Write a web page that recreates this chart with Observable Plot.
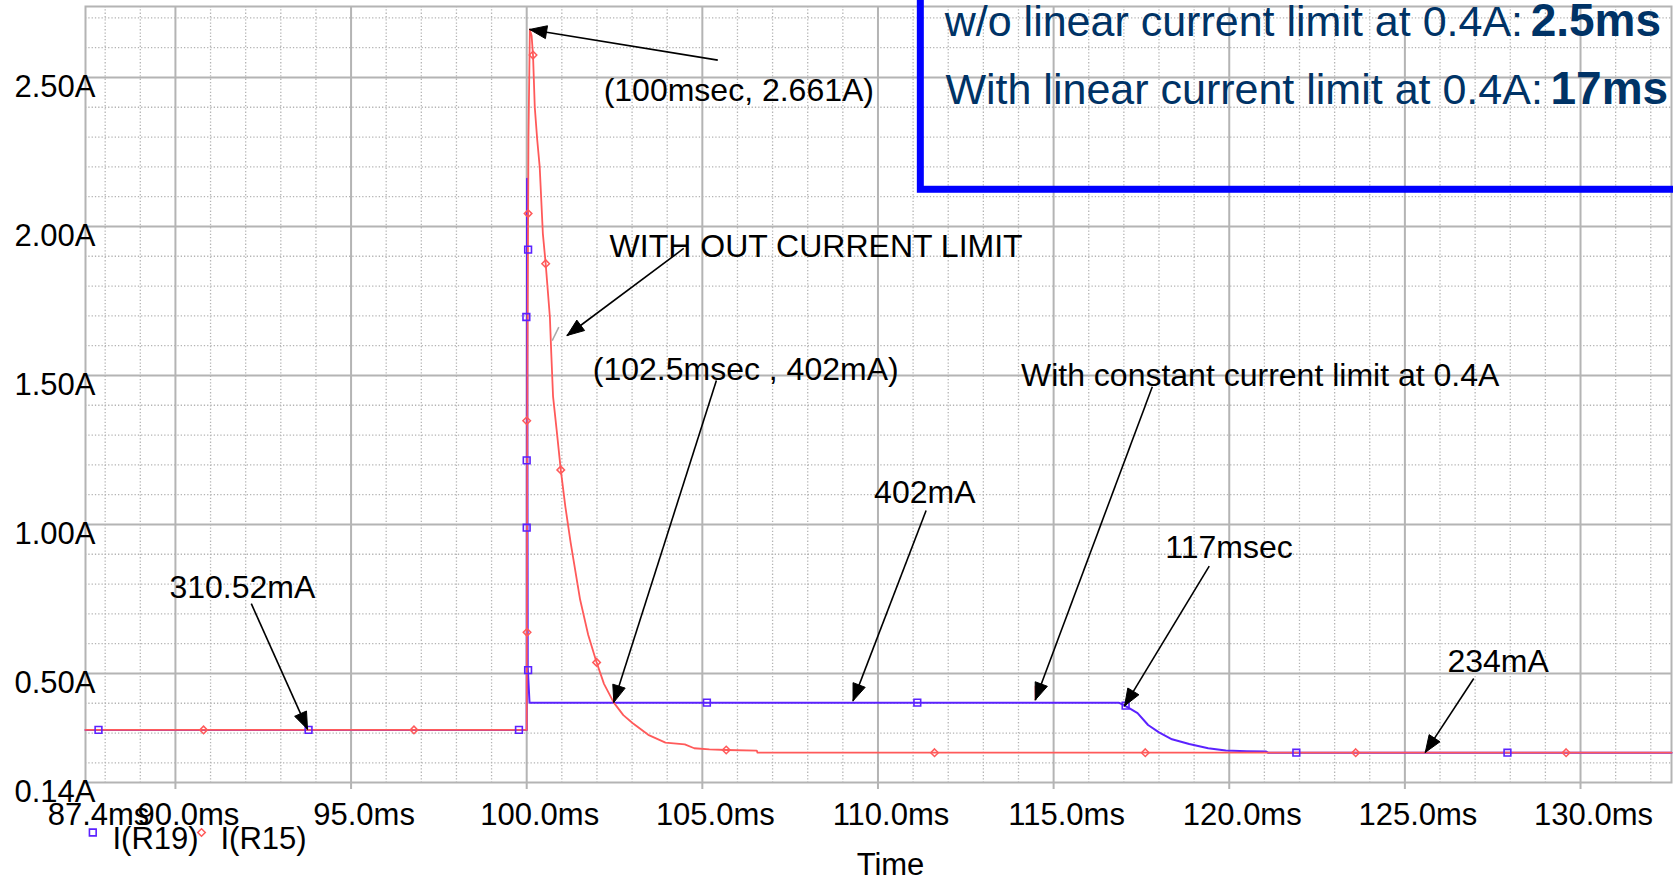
<!DOCTYPE html>
<html>
<head>
<meta charset="utf-8">
<script src="https://cdn.jsdelivr.net/npm/d3@7"></script>
<script src="https://cdn.jsdelivr.net/npm/@observablehq/plot@0.6"></script>
<style>
  html, body { margin: 0; padding: 0; background: #fff; overflow: hidden; }
</style>
</head>
<body>
<div id="chart"></div>
<script>
// ---------- axes ----------
const xDomain = [87.44, 132.59];
const yDomain = [0.134, 2.738];
const xMajorTicks = [90, 95, 100, 105, 110, 115, 120, 125, 130];
const xTickValues = [87.44, 90, 95, 100, 105, 110, 115, 120, 125, 130];
const xTickLabels = ["87.4ms", "90.0ms", "95.0ms", "100.0ms", "105.0ms", "110.0ms", "115.0ms", "120.0ms", "125.0ms", "130.0ms"];
const yMajorTicks = [0.5, 1.0, 1.5, 2.0, 2.5];
const yTickValues = [0.134, 0.5, 1.0, 1.5, 2.0, 2.5];
const yTickLabels = ["0.14A", "0.50A", "1.00A", "1.50A", "2.00A", "2.50A"];
const xLabel = "Time";

// ---------- series ----------
const seriesNames = ["I(R19)", "I(R15)"];
const seriesColors = ["#5b22ff", "#ff5a5a"];

// I(R19) – with linear current limit
const r19Time  = [87.44, 100.0, 100.01, 100.03, 100.08, 116.85, 117.0, 117.2, 117.39, 117.69, 118.0, 118.37, 118.86, 119.4, 119.9, 120.5, 121.05, 121.1, 132.59];
const r19Value = [0.3105, 0.3105, 2.16, 0.52, 0.402, 0.402, 0.394, 0.38, 0.367, 0.327, 0.302, 0.279, 0.263, 0.249, 0.241, 0.239, 0.238, 0.234, 0.234];
const r19MarkTime  = [87.81, 93.79, 99.78, 100.04, 100.0, 100.0, 99.99, 100.04, 105.13, 111.12, 117.05, 121.91, 127.92];
const r19MarkValue = [0.3105, 0.3105, 0.3105, 0.511, 0.989, 1.215, 1.696, 1.922, 0.402, 0.402, 0.392, 0.234, 0.234];

// I(R15) – without current limit
const r15Time  = [87.44, 100.0, 100.02, 100.05, 100.09, 100.14, 100.18, 100.23, 100.3, 100.37, 100.46, 100.54, 100.66, 100.7, 100.75, 100.85, 100.97, 101.1, 101.25, 101.52, 101.75, 101.99, 102.2, 102.48, 102.75, 103.02, 103.46, 103.95, 104.5, 104.77, 105.2, 105.69, 106.55, 106.57, 132.59];
const r15Value = [0.3105, 0.3105, 1.5, 2.3, 2.661, 2.64, 2.575, 2.4, 2.29, 2.2, 1.976, 1.875, 1.696, 1.573, 1.43, 1.32, 1.183, 1.06, 0.94, 0.748, 0.63, 0.537, 0.465, 0.402, 0.36, 0.333, 0.294, 0.268, 0.262, 0.249, 0.245, 0.243, 0.241, 0.234, 0.234];
const r15MarkTime  = [90.8, 96.79, 100.01, 100.0, 100.04, 100.18, 100.54, 100.97, 101.99, 105.68, 111.61, 117.61, 123.6, 129.59];
const r15MarkValue = [0.3105, 0.3105, 0.638, 1.348, 2.043, 2.575, 1.875, 1.183, 0.537, 0.243, 0.234, 0.234, 0.234, 0.234];

// ---------- annotations ----------
const annoText  = ["(100msec, 2.661A)", "WITH OUT CURRENT LIMIT", "(102.5msec , 402mA)", "With constant current limit at 0.4A", "402mA", "310.52mA", "117msec", "234mA"];
const annoX     = [102.19, 102.36, 101.88, 114.07, 109.89, 89.83, 118.18, 126.21];
const annoY     = [2.42, 1.897, 1.483, 1.466, 1.072, 0.753, 0.889, 0.506];
const arrowFromX = [105.44, 104.47, 105.4, 117.81, 111.37, 92.16, 119.43, 126.96];
const arrowFromY = [2.558, 1.926, 1.483, 1.462, 1.047, 0.734, 0.86, 0.483];
const arrowToX   = [100.085, 101.15, 102.48, 114.48, 109.29, 93.76, 117.02, 125.58];
const arrowToY   = [2.661, 1.634, 0.403, 0.411, 0.408, 0.313, 0.391, 0.235];

// small stray marks in the original
const strayX1 = [100.726, 114.48];
const strayY1 = [1.617, 0.411];
const strayX2 = [100.914, 114.48];
const strayY2 = [1.662, 0.459];
const strayColor = ["#aaaaaa", "#ff5a5a"];

// summary box
const boxLines  = ["w/o linear current limit at 0.4A:", "With linear current limit at 0.4A:"];
const boxValues = ["2.5ms", "17ms"];
const boxLineY  = [2.638, 2.41];
const boxTextX  = [111.9, 111.92];
const boxBoldX  = [128.58, 129.145];
const boxEdge   = {x1: 111.22, x2: 133.2, y1: 2.123, y2: 2.83};

// ---------- layout ----------
const W = 1673, H = 878, mL = 85, mR = 2, mT = 6, mB = 96;
const FONT = "'Liberation Sans', Arial, Helvetica, sans-serif";
const GRID = "#b4b4b4";

// build tables
const r19 = r19Time.map((t, i) => ({t, v: r19Value[i]}));
const r15 = r15Time.map((t, i) => ({t, v: r15Value[i]}));
const r19Marks = r19MarkTime.map((t, i) => ({t, v: r19MarkValue[i]}));
const r15Marks = r15MarkTime.map((t, i) => ({t, v: r15MarkValue[i]}));
const annos = annoText.map((s, i) => ({s, x: annoX[i], y: annoY[i]}));
const arrows = arrowFromX.map((x, i) => ({x1: x, y1: arrowFromY[i], x2: arrowToX[i], y2: arrowToY[i]}));
const strays = strayX1.map((x, i) => ({x1: x, y1: strayY1[i], x2: strayX2[i], y2: strayY2[i], c: strayColor[i]}));
const xMinor = d3.range(88, 133).filter(v => v % 5 !== 0);
const yMinor = d3.range(2, 28).filter(v => v % 5 !== 0).map(v => v / 10);

// arrow heads as filled triangles (computed through the plot's scales)
const xs = Plot.scale({x: {domain: xDomain, range: [mL, W - mR]}});
const ys = Plot.scale({y: {domain: yDomain, range: [H - mB, mT]}});
const xInv = xs.invert ? (p) => xs.invert(p) : d3.scaleLinear().domain([mL, W - mR]).range(xDomain);
const yInv = ys.invert ? (p) => ys.invert(p) : d3.scaleLinear().domain([H - mB, mT]).range(yDomain);
const HEAD_L = 17, HEAD_W = 6.5;
const heads = [];
arrows.forEach((a, i) => {
  const px = xs.apply(a.x2), py = ys.apply(a.y2);
  const qx = xs.apply(a.x1), qy = ys.apply(a.y1);
  const len = Math.hypot(px - qx, py - qy);
  const ux = (px - qx) / len, uy = (py - qy) / len;
  const bx = px - ux * HEAD_L, by = py - uy * HEAD_L;
  [[px, py], [bx - uy * HEAD_W, by + ux * HEAD_W], [bx + uy * HEAD_W, by - ux * HEAD_W], [px, py]]
    .forEach(([a1, b1]) => heads.push({id: i, x: xInv(a1), y: yInv(b1)}));
});

const chart = Plot.plot({
  width: W,
  height: H,
  marginLeft: mL,
  marginRight: mR,
  marginTop: mT,
  marginBottom: mB,
  x: {domain: xDomain, axis: null},
  y: {domain: yDomain, axis: null},
  style: {fontFamily: FONT, fontSize: "31px", background: "#fff", color: "#000", overflow: "hidden"},
  marks: [
    // grid
    Plot.ruleX(xMinor, {stroke: GRID, strokeWidth: 1.3, strokeDasharray: "1.3,2"}),
    Plot.ruleY(yMinor, {stroke: GRID, strokeWidth: 1.3, strokeDasharray: "1.3,2"}),
    Plot.ruleX(xMajorTicks, {stroke: GRID, strokeWidth: 2, insetBottom: -7}),
    Plot.ruleY(yMajorTicks, {stroke: GRID, strokeWidth: 2}),
    Plot.frame({stroke: GRID, strokeWidth: 2}),

    // summary box
    Plot.rect([boxEdge], {x1: "x1", x2: "x2", y1: "y1", y2: "y2", fill: "none", stroke: "#0000ff", strokeWidth: 7}),

    // traces
    Plot.line(r19, {x: "t", y: "v", stroke: seriesColors[0], strokeWidth: 2}),
    Plot.line(r15, {x: "t", y: "v", stroke: seriesColors[1], strokeWidth: 1.8}),
    Plot.dot(r19Marks, {x: "t", y: "v", symbol: "square", r: 3.8, stroke: seriesColors[0], strokeWidth: 1.6, fill: "none"}),
    Plot.dot(r15Marks, {x: "t", y: "v", symbol: "diamond2", r: 3.4, stroke: seriesColors[1], strokeWidth: 1.5, fill: "none"}),

    // stray marks
    Plot.link(strays, {x1: "x1", y1: "y1", x2: "x2", y2: "y2", stroke: "c", strokeWidth: 1.5}),

    // arrows
    Plot.link(arrows, {x1: "x1", y1: "y1", x2: "x2", y2: "y2", stroke: "#000", strokeWidth: 1.6}),
    Plot.line(heads, {x: "x", y: "y", z: "id", fill: "#000", stroke: "#000", strokeWidth: 1}),

    // annotation texts
    Plot.text(annos, {x: "x", y: "y", text: "s", textAnchor: "start", lineAnchor: "bottom", fontSize: 32, fill: "#000"}),

    // box texts
    Plot.text(boxLines, {x: (d, i) => boxTextX[i], y: (d, i) => boxLineY[i], text: d => d, textAnchor: "start", lineAnchor: "bottom", fontSize: 43, fill: "#003366"}),
    Plot.text(boxValues, {x: (d, i) => boxBoldX[i], y: (d, i) => boxLineY[i], text: d => d, textAnchor: "start", lineAnchor: "bottom", fontSize: 46, fontWeight: "bold", fill: "#003366"}),

    // tick labels
    Plot.text(xTickValues, {x: d => d, text: (d, i) => xTickLabels[i], frameAnchor: "bottom", dx: 13, dy: 42.5, lineAnchor: "bottom", fontSize: 31, fill: "#000"}),
    Plot.text(yTickValues, {y: d => d, text: (d, i) => yTickLabels[i], frameAnchor: "left", dx: -71, dy: 19.4, textAnchor: "start", lineAnchor: "bottom", fontSize: 31, fill: "#000"}),
    Plot.text([xLabel], {text: d => d, frameAnchor: "bottom", dx: 12, dy: 92, lineAnchor: "bottom", fontSize: 31, fill: "#000"}),

    // legend
    Plot.dot([seriesNames[0]], {frameAnchor: "bottom-left", dx: 7.3, dy: 50, symbol: "square", r: 3.8, stroke: seriesColors[0], strokeWidth: 1.6, fill: "none"}),
    Plot.text([seriesNames[0]], {text: d => d, frameAnchor: "bottom-left", dx: 27, dy: 66.5, textAnchor: "start", lineAnchor: "bottom", fontSize: 31, fill: "#000"}),
    Plot.dot([seriesNames[1]], {frameAnchor: "bottom-left", dx: 116, dy: 50, symbol: "diamond2", r: 3.4, stroke: seriesColors[1], strokeWidth: 1.5, fill: "none"}),
    Plot.text([seriesNames[1]], {text: d => d, frameAnchor: "bottom-left", dx: 135, dy: 66.5, textAnchor: "start", lineAnchor: "bottom", fontSize: 31, fill: "#000"})
  ]
});

document.getElementById("chart").appendChild(chart);
</script>
</body>
</html>
